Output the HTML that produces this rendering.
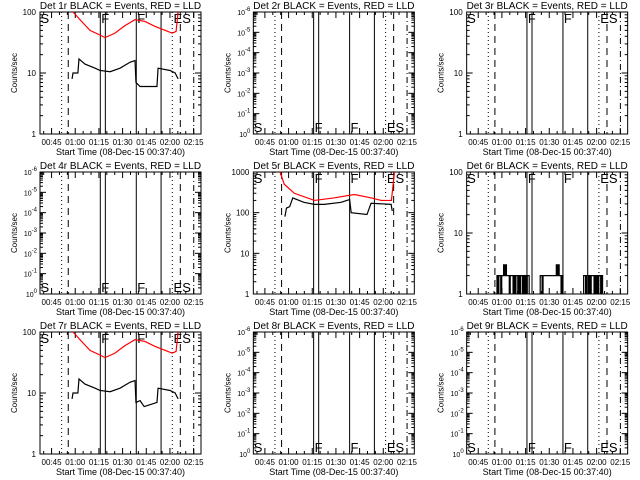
<!DOCTYPE html>
<html><head><meta charset="utf-8"><style>
html,body{margin:0;padding:0;background:#fff;}
svg{display:block;font-family:"Liberation Sans",sans-serif;}
</style></head><body>
<svg id="c" width="640" height="480" viewBox="0 0 640 480"></svg>
<script>
// ---- data ----
const panelTitles = ["Det 1r","Det 2r","Det 3r","Det 4r","Det 5r","Det 6r","Det 7r","Det 8r","Det 9r"];
const xTickLabels = ["00:45","01:00","01:15","01:30","01:45","02:00","02:15"];
const xTickMinutes = [7.33,22.33,37.33,52.33,67.33,82.33,97.33];
const dottedLines = [13.7,83.8];
const dashedLines = [17.9,88.9];
const solidLines = [38.2,41.4,61.0,76.7];
const dashDotLines = [97.4];
// panel 1
const p1RedT = [20.9,25.3,31.7,38,41.2,47.5,53.9,60.2,66.5,72.9,79.2,83.7,86.2,87.5];
const p1RedV = [100,75,50,42,38,45,60,75,70,58,50,45,48,100];
const p1BlkT = [20.3,20.9,24,24.7,28.5,34.9,38,44.4,50.7,57,60.2,60.8,63.4,74.1,74.8,82.4,85.6,87.5];
const p1BlkV = [8,10,10,17,14,12,11,10.5,12,15,16,7,6,6,12,11,10,8];
// panel 5
const p5RedT = [16.9,19.6,26,38.7,51,64,74.8,81,87.5,89.4];
const p5RedV = [1000,500,300,200,230,280,230,200,200,1000];
const p5BlkT = [20,21,23,25,32,38.7,45,55.6,61,62,72,74.6,87.3,88];
const p5BlkV = [80,130,140,230,180,160,160,180,210,100,90,170,160,110];
// panel 6 (step noise)
const p6Start = [18.6,46,73.5];
const p6Vals = [
 [1,2,1,2,2,1,2,2,3,2,3,2,2,2,1,2,2,2,1,2,1,2,2,1,2,1,2,2,1,2,1,2,1,2,2,1],
 [1,2,2,1,2,2,2,2,2,2,2,2,2,2,2,2,2,2,3,2,3,2,2,1,2,1],
 [1,2,2,1,2,2,1,2,1,2,2,2,1,2,1,2,1,2,2,1,2,1,1]
];
// panel 7
const p7RedT = [20.9,25.3,31.7,38,41.2,47.5,53.9,60.2,66.5,72.9,79.2,83.7,86.2,87.5];
const p7RedV = [100,75,50,42,38,45,60,75,70,58,50,45,48,100];
const p7BlkT = [20.3,20.9,24,24.7,28.5,34.9,38,44.4,50.7,57,60.2,60.8,63.4,66,74.1,74.8,82.4,85.6,87.5];
const p7BlkV = [8,10,10,17,14,12,11,10.5,12,15,16,7,7.5,6,7,12,11,10,8];
</script>
<script>
const svg = document.getElementById('c');
const NS = "http://www.w3.org/2000/svg";
const BX0=40, BX1=201, BY0=12, BY1=134, TMAX=102;
function mk(tag, attrs, parent){const e=document.createElementNS(NS,tag);for(const k in attrs)e.setAttribute(k,attrs[k]);(parent||svg).appendChild(e);return e;}
const yTypes=['a','c','a','c','b','a','a','c','c'];
const labelPos=['top','bottom','top','bottom','top','top','top','bottom','bottom'];
function panel(i){
  const ox = (i%3)*213.33, oy = Math.floor(i/3)*160;
  const g = mk('g',{transform:`translate(${ox.toFixed(2)},${oy})`});
  
  
  const xs = t => BX0 + t*(BX1-BX0)/TMAX;
  const yt = yTypes[i];
  const decades = yt==='a'?2:(yt==='b'?3:6);
  const ys = v => BY1 - Math.log10(v)/decades*(BY1-BY0);
  const tt = mk('text',{x:(BX0+BX1)/2,y:9,'font-size':'10','text-anchor':'middle'},g);
  tt.textContent = panelTitles[i]+" BLACK = Events, RED = LLD";
  
  
  const bx = mk('rect',{x:BX0,y:BY0,width:BX1-BX0,height:BY1-BY0,fill:'none',stroke:'#000','stroke-width':1},g);
  
  
  for(let d=0; d<=decades; d++){
    const y = BY1 - d/decades*(BY1-BY0);
    mk('line',{x1:BX0,x2:BX0+6,y1:y,y2:y,stroke:'#000'},g);
    mk('line',{x1:BX1,x2:BX1-6,y1:y,y2:y,stroke:'#000'},g);
    if(d<decades){
      for(let m=2;m<=9;m++){
        const ym = y - Math.log10(m)/decades*(BY1-BY0);
        mk('line',{x1:BX0,x2:BX0+3,y1:ym,y2:ym,stroke:'#000'},g);
        mk('line',{x1:BX1,x2:BX1-3,y1:ym,y2:ym,stroke:'#000'},g);
      }
    }
    const lab = mk('text',{x:36,y:y+3,'font-size':'8','text-anchor':'end'},g);
    
    
    if(yt==='c'){
      lab.setAttribute('x',37);
      lab.setAttribute('font-size','7');
      lab.textContent='10';
      const sp = mk('tspan',{dy:-4,'font-size':'6'},lab);
      sp.textContent = d===0?'0':('-'+d);
    } else {
      lab.textContent = String(Math.pow(10,d));
    }
  }
  const yl = mk('text',{x:0,y:0,'font-size':'8','text-anchor':'middle',transform:`translate(17,${(BY0+BY1)/2}) rotate(-90)`},g);
  yl.textContent='Counts/sec';
  
  
  for(let t=2.33;t<TMAX;t+=5){
    const x=xs(t); const major = xTickMinutes.some(m=>Math.abs(m-t)<0.1);
    const L = major?6:3;
    mk('line',{x1:x,x2:x,y1:BY1,y2:BY1-L,stroke:'#000'},g);
    mk('line',{x1:x,x2:x,y1:BY0,y2:BY0+L,stroke:'#000'},g);
  }
  xTickLabels.forEach((s,k)=>{
    const e = mk('text',{x:xs(xTickMinutes[k]),y:145,'font-size':'8','text-anchor':'middle'},g);
    e.textContent=s;
    
    
  });
  const xl = mk('text',{x:(BX0+BX1)/2,y:155,'font-size':'9','text-anchor':'middle'},g);
  xl.textContent='Start Time (08-Dec-15 00:37:40)';
  
  
  const vline=(t,dash,nm)=>{const l=mk('line',{x1:xs(t),x2:xs(t),y1:BY0,y2:BY1,stroke:'#000','stroke-width':1},g); if(dash) l.setAttribute('stroke-dasharray',dash);
    
    };
  dottedLines.forEach(t=>vline(t,'1,3','dotted-marker'));
  dashedLines.forEach(t=>vline(t,'7,5','dashed-marker'));
  solidLines.forEach(t=>vline(t,null,'solid-marker'));
  dashDotLines.forEach(t=>vline(t,'6,3,1,3','dashdot-marker'));
  const ly = labelPos[i]==='top'? BY0+11 : BY1-2;
  [["S",0.3],["F",38.8],["F",61.6],["ES",84.6]].forEach(([s,t])=>{
    const e=mk('text',{x:xs(t),y:ly,'font-size':'13'},g);
    e.textContent=s;
    
    
  });
  const clip = 'clip'+i;
  const cp = mk('clipPath',{id:clip},g); mk('rect',{x:BX0,y:BY0-1,width:BX1-BX0,height:BY1-BY0+1},cp);
  const series=(T,V,col,nm,step)=>{
    let d='';
    T.forEach((t,k)=>{const x=xs(t),y=ys(V[k]); if(k===0) d+=`M${x},${y}`; else d+= step?`H${x}V${y}`:`L${x},${y}`;});
    const p=mk('path',{d,fill:'none',stroke:col,'stroke-width':1.2,'clip-path':`url(#${clip})`},g);
    
    
  };
  if(i===0){series(p1RedT,p1RedV,'#f00','lld-series');series(p1BlkT,p1BlkV,'#000','events-series');}
  if(i===4){series(p5RedT,p5RedV,'#f00','lld-series');series(p5BlkT,p5BlkV,'#000','events-series');}
  if(i===6){series(p7RedT,p7RedV,'#f00','lld-series');series(p7BlkT,p7BlkV,'#000','events-series');}
  if(i===5){
    p6Vals.forEach((vals,s)=>{
      const T=vals.map((v,k)=>p6Start[s]+k*0.6);
      series(T,vals,'#000','events-series',true);
    });
  }
}
for(let i=0;i<9;i++) panel(i);
</script>
</body></html>
